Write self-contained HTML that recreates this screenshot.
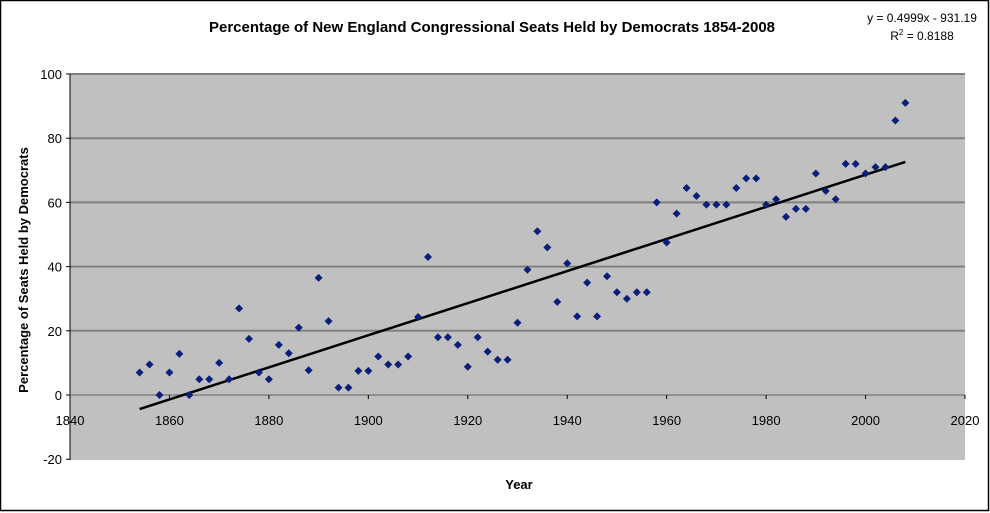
<!DOCTYPE html>
<html><head><meta charset="utf-8"><style>
body{margin:0;background:#fff;}
svg{display:block;font-family:"Liberation Sans",Arial,sans-serif;}
</style></head><body>
<svg id="chart" width="990" height="513">
<rect x="0.5" y="0.5" width="988" height="510" fill="#fff" stroke="#000" stroke-width="1.5"/>
<text x="492" y="32" text-anchor="middle" font-size="15" font-weight="bold">Percentage of New England Congressional Seats Held by Democrats 1854-2008</text>
<text x="922" y="22" text-anchor="middle" font-size="12">y = 0.4999x - 931.19</text>
<text x="922" y="40" text-anchor="middle" font-size="12">R<tspan dy="-5" font-size="8">2</tspan><tspan dy="5"> = 0.8188</tspan></text>
<rect x="70" y="74" width="895" height="386" fill="#c0c0c0"/>
<g id="grid"></g><g id="axes"></g><g id="trend"></g><g id="pts"></g>
<text x="519" y="489" text-anchor="middle" font-size="13" font-weight="bold">Year</text>
<text transform="translate(28,270) rotate(-90)" text-anchor="middle" font-size="13" font-weight="bold">Percentage of Seats Held by Democrats</text>
</svg>
<script>
const years=[1854,1856,1858,1860,1862,1864,1866,1868,1870,1872,1874,1876,1878,1880,1882,1884,1886,1888,1890,1892,1894,1896,1898,1900,1902,1904,1906,1908,1910,1912,1914,1916,1918,1920,1922,1924,1926,1928,1930,1932,1934,1936,1938,1940,1942,1944,1946,1948,1950,1952,1954,1956,1958,1960,1962,1964,1966,1968,1970,1972,1974,1976,1978,1980,1982,1984,1986,1988,1990,1992,1994,1996,1998,2000,2002,2004,2006,2008];
const pct=[7,9.5,0,7,12.8,0,4.9,4.9,10,4.9,27,17.5,7,4.9,15.6,13,21,7.7,36.5,23,2.3,2.3,7.5,7.5,12,9.5,9.5,12,24.3,43,18,18,15.6,8.8,18,13.5,11,11,22.5,39,51,46,29,41,24.5,35,24.5,37,32,30,32,32,60,47.5,56.5,64.5,62,59.3,59.3,59.3,64.5,67.5,67.5,59.3,61,55.5,58,58,69,63.6,61,72,72,69,71,71,85.5,91];
const xTicks=[1840,1860,1880,1900,1920,1940,1960,1980,2000,2020];
const yTicks=[-20,0,20,40,60,80,100];
const slope=0.4999, intercept=-931.19;
const X=v=>70+(v-1840)/180*895;
const Y=v=>395-(v)*(395-74)/100;
const NS="http://www.w3.org/2000/svg";
function mk(t,a,p){const e=document.createElementNS(NS,t);for(const k in a)e.setAttribute(k,a[k]);p.appendChild(e);return e;}
const g=document.getElementById('grid'),ax=document.getElementById('axes'),tr=document.getElementById('trend'),pts=document.getElementById('pts');
yTicks.forEach(v=>{
 if(v!==0&&v!==-20){const l=mk('line',{x1:70,x2:965,y1:Y(v),y2:Y(v),stroke:'#808080','stroke-width':2},g);
 
 }
 const t=mk('text',{x:62,y:Y(v)+5,'text-anchor':'end','font-size':13},ax);t.textContent=v;
 
 
 mk('line',{x1:66,x2:70,y1:Y(v),y2:Y(v),stroke:'#000'},ax);
});
const yl=mk('line',{x1:70,x2:70,y1:74,y2:460,stroke:'#000'},ax);


const xl=mk('line',{x1:70,x2:965,y1:Y(0),y2:Y(0),stroke:'#808080','stroke-width':1.5},ax);


xTicks.forEach(v=>{
 mk('line',{x1:X(v),x2:X(v),y1:Y(0),y2:Y(0)+4,stroke:'#000'},ax);
 const t=mk('text',{x:X(v),y:Y(0)+30,'text-anchor':'middle','font-size':13},ax);t.textContent=v;
 
 
});
const y0=years[0],y1=years[years.length-1];
const tl=mk('line',{x1:X(y0),y1:Y(slope*y0+intercept),x2:X(y1),y2:Y(slope*y1+intercept),stroke:'#000','stroke-width':2.5},tr);


years.forEach((yr,i)=>{
 const cx=X(yr),cy=Y(pct[i]);
 const p=mk('path',{d:`M${cx} ${cy-4}L${cx+4} ${cy}L${cx} ${cy+4}L${cx-4} ${cy}Z`,fill:'#0a1f7a'},pts);
 
 
});
</script>
</body></html>
